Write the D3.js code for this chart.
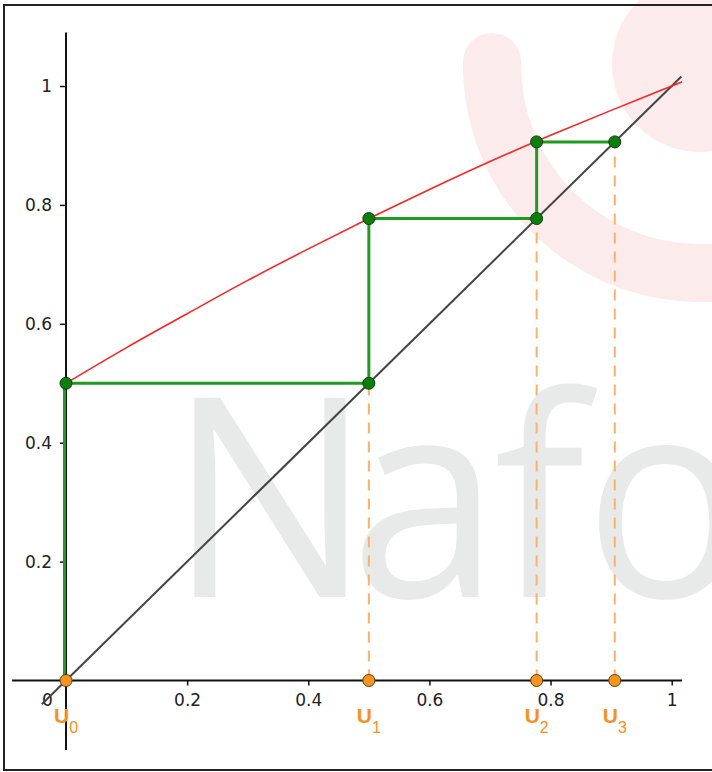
<!DOCTYPE html>
<html>
<head>
<meta charset="utf-8">
<script src="https://cdn.jsdelivr.net/npm/d3@7"></script>
<style>
  body { margin: 0; background: #fff; }
  svg { display: block; }
</style>
</head>
<body>
<div class="chart"></div>
<script>
const width = 712;
const height = 772;

// suite u(n)
const seqIndex = ["0", "1", "2", "3"];
const seqValues = [0, 0.5, 0.777, 0.906];

// red curve y = f(x)
const curveX = [0, 0.1, 0.2, 0.3, 0.4, 0.5, 0.6, 0.7, 0.8, 0.9, 1.0, 1.017];
const curveY = [0.5, 0.560, 0.617, 0.673, 0.726, 0.777, 0.826, 0.873, 0.917, 0.959, 1.0, 1.007];

// diagonal y = x
const diagX = [-0.04, 1.016];

const xTicks = [0, 0.2, 0.4, 0.6, 0.8, 1];
const yTicks = [0.2, 0.4, 0.6, 0.8, 1];

const svg = d3.select(".chart")
    .append("svg")
    .attr("width", width)
    .attr("height", height);

const x = d3.scaleLinear().domain([0, 1]).range([66, 671.7]);
const y = d3.scaleLinear().domain([0, 1]).range([680.5, 86]);

// background watermark, one glyph at a time
const wm = svg.append("g")
    .attr("font-family", "Open Sans")
    .attr("font-size", 279)
    .attr("fill", "#e8e9e9");
[["N", 168], ["a", 350], ["f", 494], ["o", 584]].forEach(([ch, px]) => {
    wm.append("text")
        .attr("transform", `translate(${px}, 597) scale(0.97, 1)`)
        .text(ch);
});

const logo = svg.append("g").attr("fill", "#fcebeb").attr("stroke", "#fcebeb");
logo.append("path")
    .attr("fill", "none")
    .attr("stroke-width", 58)
    .attr("stroke-linecap", "round")
    .attr("d", "M492,62 A208,208 0 0 0 908,68");
logo.append("circle")
    .attr("cx", 700).attr("cy", 64).attr("r", 88)
    .attr("stroke", "none");

// axes
const axisColor = "#111";
svg.append("line")
    .attr("x1", x(-0.089)).attr("x2", x(1.017))
    .attr("y1", y(0)).attr("y2", y(0))
    .attr("stroke", axisColor).attr("stroke-width", 2);
svg.append("line")
    .attr("x1", x(0)).attr("x2", x(0))
    .attr("y1", y(1.09)).attr("y2", y(-0.117))
    .attr("stroke", axisColor).attr("stroke-width", 2);

const gX = svg.append("g")
    .attr("transform", `translate(0, ${y(0)})`)
    .call(d3.axisBottom(x).tickValues(xTicks).tickSize(5).tickPadding(8)
        .tickFormat(d => d3.format("")(d)));
const gY = svg.append("g")
    .attr("transform", `translate(${x(0)}, 0)`)
    .call(d3.axisLeft(y).tickValues(yTicks).tickSize(6).tickPadding(8)
        .tickFormat(d => d3.format("")(d)));

[gX, gY].forEach(g => {
    g.select(".domain").remove();
    g.selectAll("line").attr("stroke", axisColor).attr("stroke-width", 1.5);
    g.selectAll("text")
        .attr("font-family", "DejaVu Sans")
        .attr("font-size", 17)
        .attr("fill", "#222");
});
// origin label sits left of the axis
gX.selectAll(".tick").filter(d => d === 0).select("line").remove();
gX.selectAll(".tick").filter(d => d === 0).select("text").attr("x", -19);

// diagonal
svg.append("line")
    .attr("x1", x(diagX[0])).attr("y1", y(diagX[0]))
    .attr("x2", x(diagX[1])).attr("y2", y(diagX[1]))
    .attr("stroke", "#444").attr("stroke-width", 2);

// red curve
const curve = curveX.map((d, i) => [d, curveY[i]]);
svg.append("path")
    .datum(curve)
    .attr("fill", "none")
    .attr("stroke", "#ff2424")
    .attr("stroke-width", 1.6)
    .attr("d", d3.line().x(d => x(d[0])).y(d => y(d[1])).curve(d3.curveMonotoneX));

// dashed projections
svg.selectAll(".proj")
    .data(seqValues.slice(1))
    .enter()
    .append("line")
    .attr("class", "proj")
    .attr("x1", d => x(d)).attr("x2", d => x(d))
    .attr("y1", y(0)).attr("y2", d => y(d))
    .attr("stroke", "#fdb06a")
    .attr("stroke-width", 2)
    .attr("stroke-dasharray", "11,8");

// cobweb
const web = [[seqValues[0], 0]];
const webPts = [];
for (let i = 0; i < seqValues.length - 1; i++) {
    web.push([seqValues[i], seqValues[i + 1]]);
    web.push([seqValues[i + 1], seqValues[i + 1]]);
    webPts.push([seqValues[i], seqValues[i + 1]]);
    webPts.push([seqValues[i + 1], seqValues[i + 1]]);
}
svg.append("path")
    .datum(web)
    .attr("fill", "none")
    .attr("stroke", "#1f9c1f")
    .attr("stroke-width", 3)
    .attr("d", d3.line().x(d => x(d[0]) - (d[0] === 0 ? 1.5 : 0)).y(d => y(d[1])));

svg.selectAll(".gpt")
    .data(webPts)
    .enter()
    .append("circle")
    .attr("class", "gpt")
    .attr("cx", d => x(d[0]))
    .attr("cy", d => y(d[1]))
    .attr("r", 6)
    .attr("fill", "#0a800a")
    .attr("stroke", "#123a12")
    .attr("stroke-width", 1);

svg.selectAll(".opt")
    .data(seqValues)
    .enter()
    .append("circle")
    .attr("class", "opt")
    .attr("cx", d => x(d))
    .attr("cy", y(0))
    .attr("r", 6)
    .attr("fill", "#f7941e")
    .attr("stroke", "#5a3d18")
    .attr("stroke-width", 1);

// labels U0..U3
const lab = svg.selectAll(".ulab")
    .data(seqValues)
    .enter()
    .append("text")
    .attr("class", "ulab")
    .attr("x", d => x(d) - 12)
    .attr("y", 723)
    .attr("font-family", "Liberation Sans")
    .attr("fill", "#f7901c");
lab.append("tspan").attr("font-size", 21).attr("font-weight", "bold").text("U");
lab.append("tspan").attr("font-size", 16).attr("dy", 10).text((d, i) => seqIndex[i]);

// frame
svg.append("rect")
    .attr("x", 4).attr("y", 5)
    .attr("width", 740).attr("height", 765)
    .attr("fill", "none")
    .attr("stroke", "#222")
    .attr("stroke-width", 2);
</script>
</body>
</html>
